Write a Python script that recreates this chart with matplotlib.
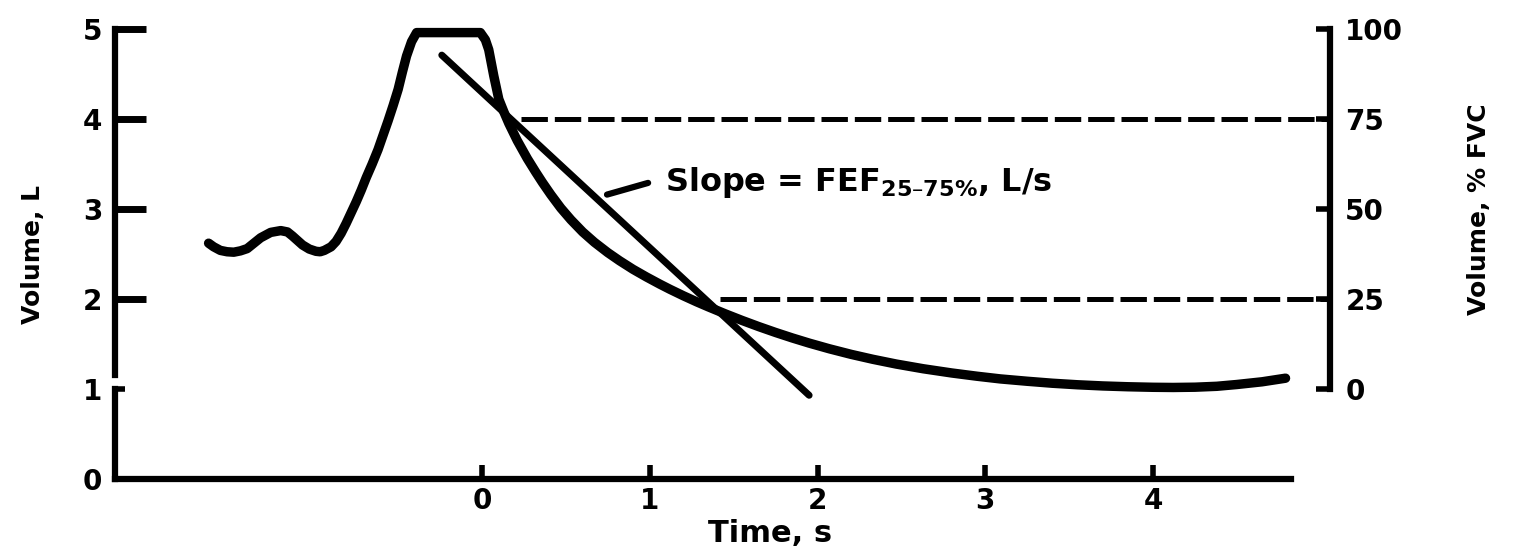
import matplotlib
matplotlib.use("Agg")
import matplotlib.pyplot as plt

# ---------------- data ----------------
wave_t = [-1.63, -1.60, -1.56, -1.52, -1.48, -1.44, -1.40, -1.36, -1.32, -1.26,
          -1.20, -1.16, -1.13, -1.10, -1.07, -1.03, -0.99, -0.965, -0.94, -0.90,
          -0.87, -0.84, -0.81, -0.78, -0.75, -0.72, -0.69, -0.655, -0.62, -0.59,
          -0.56, -0.53, -0.50, -0.475, -0.45, -0.42, -0.39, -0.01, 0.02, 0.04,
          0.07, 0.10, 0.13, 0.16, 0.21, 0.27, 0.32, 0.36, 0.41, 0.47,
          0.53, 0.60, 0.67, 0.75, 0.82, 0.90, 0.98, 1.06, 1.12, 1.20,
          1.28, 1.35, 1.45, 1.55, 1.65, 1.75, 1.85, 1.95, 2.07, 2.20,
          2.33, 2.47, 2.63, 2.80, 2.95, 3.09, 3.25, 3.40, 3.55, 3.70,
          3.85, 4.00, 4.12, 4.25, 4.38, 4.50, 4.65, 4.79]
wave_v = [2.62, 2.58, 2.54, 2.525, 2.52, 2.535, 2.56, 2.62, 2.68, 2.74,
          2.76, 2.745, 2.70, 2.65, 2.60, 2.555, 2.53, 2.525, 2.54, 2.58,
          2.64, 2.73, 2.84, 2.96, 3.08, 3.21, 3.35, 3.50, 3.66, 3.82,
          3.98, 4.15, 4.33, 4.52, 4.70, 4.86, 4.96, 4.96, 4.88, 4.77,
          4.48, 4.22, 4.08, 3.95, 3.76, 3.56, 3.41, 3.295, 3.16, 3.01,
          2.88, 2.745, 2.63, 2.515, 2.425, 2.33, 2.245, 2.165, 2.108, 2.036,
          1.968, 1.912, 1.835, 1.762, 1.693, 1.628, 1.567, 1.51, 1.447, 1.385,
          1.33, 1.277, 1.225, 1.178, 1.142, 1.112, 1.086, 1.064, 1.047, 1.034,
          1.025, 1.019, 1.017, 1.02, 1.03, 1.05, 1.08, 1.12]

slope_t = [-0.24, 1.95]
slope_v = [4.71, 0.93]

pct_levels = [75, 25]          # % FVC reference lines
pct_start_t = [0.23, 1.42]     # where the dashed lines begin

pointer_t = [0.745, 0.99]
pointer_v = [3.16, 3.29]

time_ticks = [0, 1, 2, 3, 4]
time_labels = ["0", "1", "2", "3", "4"]
vol_major = [2, 3, 4, 5]
vol_minor = [0, 1]
pct_ticks = [0, 25, 50, 75, 100]

# ---------------- style ----------------
plt.rcParams['font.family'] = ['DejaVu Sans']
plt.rcParams['font.weight'] = 'bold'
plt.rcParams['mathtext.fontset'] = 'dejavusans'
plt.rcParams['mathtext.default'] = 'bf'
plt.rcParams['lines.scale_dashes'] = False

W, H = 1518, 556
fig = plt.figure(figsize=(W / 100, H / 100), dpi=100)
ax_l, ax_r, ax_b, ax_t = 115, 1330, 479, 29
ax = fig.add_axes([ax_l / W, 1 - ax_b / H, (ax_r - ax_l) / W, (ax_b - ax_t) / H])

x0, x1 = -2.188, 5.055
ax.set_xlim(x0, x1)
ax.set_ylim(0, 5)

ax2 = ax.twinx()
ax2.set_ylim((0 - 1) * 25, (5 - 1) * 25)

spine_lw = 4.5
for a in (ax, ax2):
    for s in a.spines.values():
        s.set_visible(False)

# left spine (broken) and bottom spine
ax.spines['left'].set_visible(True)
ax.spines['left'].set_linewidth(spine_lw)
ax.spines['left'].set_bounds(1.16, 5)
ax.plot([0, 0], [0, 1], transform=ax.get_yaxis_transform(), color='black',
        lw=spine_lw, clip_on=False, solid_capstyle='projecting')
ax.spines['bottom'].set_visible(True)
ax.spines['bottom'].set_linewidth(spine_lw)
ax.spines['bottom'].set_bounds(x0, 4.82)

ax2.spines['right'].set_visible(True)
ax2.spines['right'].set_linewidth(spine_lw)
ax2.spines['right'].set_bounds(0, 100)

# ticks
tick_fs = 20
ax.set_yticks(vol_major, [str(v) for v in vol_major])
ax.set_yticks(vol_minor, [str(v) for v in vol_minor], minor=True)
ax.tick_params(axis='y', which='major', direction='in', length=22, width=5,
               pad=9, labelsize=tick_fs)
ax.tick_params(axis='y', which='minor', direction='in', length=7, width=4,
               pad=9, labelsize=tick_fs)
ax.set_xticks(time_ticks, time_labels)
ax.tick_params(axis='x', which='major', direction='in', length=10, width=4,
               pad=6, labelsize=tick_fs)
ax2.set_yticks(pct_ticks, [str(p) for p in pct_ticks])
ax2.tick_params(axis='y', which='major', direction='in', length=10, width=4,
                pad=11, labelsize=tick_fs)
for lab in ax.get_yticklabels(which='both') + ax.get_xticklabels() + ax2.get_yticklabels():
    lab.set_fontweight('bold')

# labels
ax.set_ylabel("Volume, L", fontsize=18, fontweight='bold')
ax.yaxis.set_label_coords((33 - ax_l) / (ax_r - ax_l), (ax_b - 255) / (ax_b - ax_t))
ax.yaxis.label.set_va('center')
ax2.set_ylabel("Volume, % FVC", fontsize=18, fontweight='bold', rotation=90)
ax2.yaxis.set_label_coords((1479 - ax_l) / (ax_r - ax_l), (ax_b - 209) / (ax_b - ax_t))
ax2.yaxis.label.set_va('center')
ax.set_xlabel("Time, s", fontsize=22, fontweight='bold')
ax.xaxis.set_label_coords((770 - ax_l) / (ax_r - ax_l), (ax_b - 533) / (ax_b - ax_t))
ax.xaxis.label.set_va('center')

# dashed reference lines
for lvl, ts in zip(pct_levels, pct_start_t):
    ax2.plot([ts, x1], [lvl, lvl], color='black', lw=3.6,
             linestyle=(0, (19, 5)), clip_on=False)

# spirogram curve
ax.plot(wave_t, wave_v, color='black', lw=6.8, solid_joinstyle='round',
        solid_capstyle='round', clip_on=False, zorder=3)
# slope line
ax.plot(slope_t, slope_v, color='black', lw=5, solid_capstyle='round',
        clip_on=False, zorder=3)
# pointer and annotation text
ax.plot(pointer_t, pointer_v, color='black', lw=4.5, solid_capstyle='round', zorder=3)
ax.text(1.09, 3.29, "Slope = FEF$_{25\u201375\\%}$, L/s", fontsize=23,
        fontweight='bold', va='center', ha='left')

fig.savefig("out.png", dpi=100, facecolor='white')
